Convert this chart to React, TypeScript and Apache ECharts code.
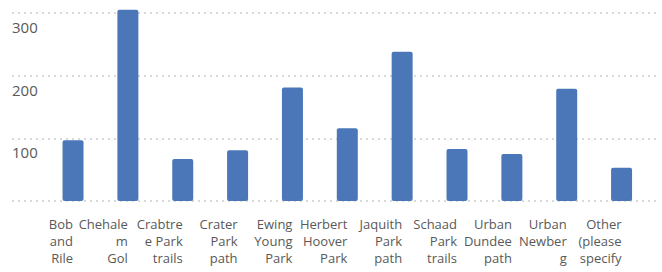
import React, { useEffect, useRef } from "react";
import * as echarts from "echarts";

const categories: string[] = [
  "Bob\nand\nRile",
  "Chehale\nm\nGol",
  "Crabtre\ne Park\ntrails",
  "Crater\nPark\npath",
  "Ewing\nYoung\nPark",
  "Herbert\nHoover\nPark",
  "Jaquith\nPark\npath",
  "Schaad\nPark\ntrails",
  "Urban\nDundee\npath",
  "Urban\nNewber\ng",
  "Other\n(please\nspecify",
];

const values: number[] = [97, 305, 67, 81, 181, 116, 238, 83, 75, 179, 53];

const yMin = 0;
const yMax = 300;
const yInterval = 100;

export default function App() {
  const ref = useRef<HTMLDivElement>(null);

  useEffect(() => {
    if (!ref.current) return;
    const chart = echarts.init(ref.current, null, { renderer: "svg" });
    const font = "'Open Sans', 'Noto Sans', sans-serif";
    chart.setOption({
      animation: false,
      backgroundColor: "#ffffff",
      grid: [
        { left: 45.6, right: 13, top: 13, bottom: 71 },
        { left: 12, right: 6, top: 13, bottom: 71 },
      ],
      xAxis: [
        {
          type: "category",
          gridIndex: 0,
          data: categories,
          axisLine: { show: false },
          axisTick: { show: false },
          axisLabel: {
            interval: 0,
            align: "right",
            margin: 14,
            fontSize: 13,
            lineHeight: 17,
            color: "#595959",
            fontFamily: font,
          },
        },
        {
          type: "value",
          gridIndex: 1,
          show: false,
          min: 0,
          max: 1,
        },
      ],
      yAxis: [
        {
          type: "value",
          gridIndex: 0,
          min: yMin,
          max: yMax,
          interval: yInterval,
          axisLine: { show: false },
          axisTick: { show: false },
          splitLine: { show: false },
          axisLabel: {
            align: "left",
            margin: 33.6,
            verticalAlign: "top",
            lineHeight: 28,
            fontSize: 15,
            color: "#595959",
            fontFamily: font,
            formatter: (v: number) => (v === 0 ? "" : String(v)),
          },
        },
        {
          type: "value",
          gridIndex: 1,
          min: yMin,
          max: yMax,
          interval: yInterval,
          axisLine: { show: false },
          axisTick: { show: false },
          axisLabel: { show: false },
          splitLine: {
            show: true,
            lineStyle: { color: "#d9d9d9", width: 2, type: [2, 4] },
          },
        },
      ],
      series: [
        {
          type: "bar",
          xAxisIndex: 0,
          yAxisIndex: 0,
          data: values,
          barWidth: 21,
          clip: false,
          itemStyle: { color: "#4b77b9", borderRadius: 2 },
          z: 3,
        },
      ],
    });
    return () => chart.dispose();
  }, []);

  return (
    <div
      ref={ref}
      style={{ position: "fixed", left: 0, top: 0, width: 662, height: 272 }}
    />
  );
}
